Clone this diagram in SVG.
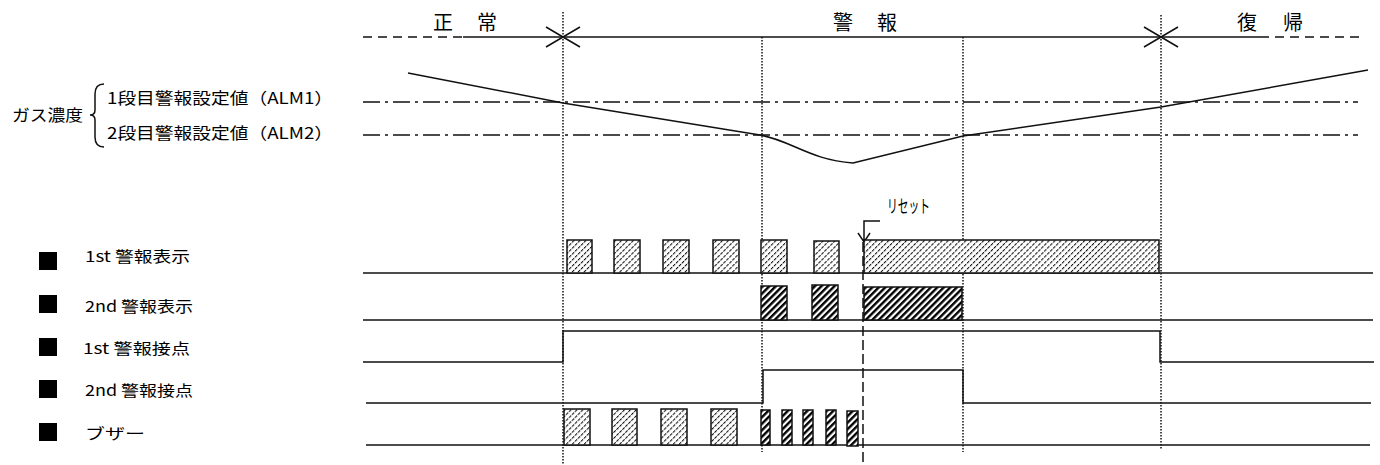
<svg xmlns="http://www.w3.org/2000/svg" width="1380" height="465" viewBox="0 0 1380 465">
<style>
text{font-family:"Noto Sans CJK JP","Noto Sans",sans-serif;fill:#000}
.hd{font-size:20px}
.lb{font-size:16px}
.rl{font-size:15px}
.ln{fill:none;stroke:#111;stroke-width:1.5}
.dot{fill:none;stroke:#111;stroke-width:1.5;stroke-dasharray:1.5 1.5}
.dd{fill:none;stroke:#111;stroke-width:1.3;stroke-dasharray:17 5 3 5}
.ph1{fill:url(#hl);stroke:#111;stroke-width:1.5}
.ph2{fill:url(#hd);stroke:#111;stroke-width:1.5}
.sq{fill:#000}
</style>
<defs>
<pattern id="hl" patternUnits="userSpaceOnUse" width="4.2" height="4.2" patternTransform="rotate(45)">
<rect width="4.2" height="4.2" fill="#fff"/>
<line x1="0.5" y1="0" x2="0.5" y2="4.2" stroke="#111" stroke-width="1.1" stroke-dasharray="2.4 0.9"/>
</pattern>
<pattern id="hd" patternUnits="userSpaceOnUse" width="4.6" height="4.6" patternTransform="rotate(45)">
<rect width="4.6" height="4.6" fill="#fff"/>
<line x1="1.2" y1="0" x2="1.2" y2="4.6" stroke="#000" stroke-width="2.4"/>
</pattern>
</defs>

<g id="header">
<text class="hd" x="433" y="30" textLength="64" lengthAdjust="spacing">正 常</text>
<text class="hd" x="833" y="30" textLength="64" lengthAdjust="spacing">警 報</text>
<text class="hd" x="1237" y="30" textLength="66" lengthAdjust="spacing">復 帰</text>
<line x1="363" y1="37" x2="463" y2="37" class="ln" stroke-dasharray="9 6"/>
<line x1="463" y1="37" x2="1260" y2="37" class="ln"/>
<line x1="1260" y1="37" x2="1360" y2="37" class="ln" stroke-dasharray="9 6"/>
<path class="ln" d="M546,27 L580,47 M546,47 L580,27"/>
<path class="ln" d="M1144,27 L1178,47 M1144,47 L1178,27"/>
</g>

<g id="gas-labels">
<text class="lb" x="12" y="121" textLength="71" lengthAdjust="spacingAndGlyphs">ガス濃度</text>
<path class="ln" d="M104,84 Q95,84 95,94 L95,110 Q95,115 90,115 Q95,115 95,120 L95,137 Q95,147 104,147"/>
<text class="lb" x="107" y="104" textLength="226" lengthAdjust="spacingAndGlyphs">1段目警報設定値（ALM1）</text>
<text class="lb" x="107" y="139" textLength="226" lengthAdjust="spacingAndGlyphs">2段目警報設定値（ALM2）</text>
</g>

<g id="thresholds">
<line x1="363" y1="102" x2="1358" y2="102" class="dd"/>
<line x1="363" y1="135" x2="1358" y2="135" class="dd"/>
</g>

<g id="concentration-curve">
<path class="ln" d="M408,73 L563,103 L760,135 C790,140 810,160 853,163 L963,136 L1161,107 L1368,70"/>
</g>

<g id="guides">
<line x1="563" y1="12" x2="563" y2="465" class="dot"/>
<line x1="762" y1="37" x2="762" y2="452" class="dot"/>
<line x1="963" y1="37" x2="963" y2="452" class="dot"/>
<line x1="1161" y1="15" x2="1161" y2="450" class="dot"/>
<line x1="863" y1="242" x2="863" y2="465" class="ln" stroke-width="1.2" stroke-dasharray="10 4"/>
</g>

<g id="reset">
<text x="887" y="213" style="font-size:18px" textLength="43" lengthAdjust="spacingAndGlyphs">リセット</text>
<path class="ln" d="M880,221 L864,221 L864,242 M858,233 L864,242 L870,233"/>
</g>

<g id="row1">
<rect class="sq" x="39" y="252" width="18" height="18"/>
<text class="rl" x="85" y="262" textLength="105" lengthAdjust="spacingAndGlyphs">1st 警報表示</text>
<line x1="363" y1="273" x2="1373" y2="273" class="ln"/>
<rect class="ph1" x="567" y="240" width="25" height="33"/>
<rect class="ph1" x="614" y="240" width="26" height="33"/>
<rect class="ph1" x="663" y="240" width="26" height="33"/>
<rect class="ph1" x="713" y="240" width="26" height="33"/>
<rect class="ph1" x="761" y="240" width="26" height="33"/>
<rect class="ph1" x="814" y="241" width="25" height="32"/>
<rect class="ph1" x="864" y="240" width="295" height="33"/>
</g>

<g id="row2">
<rect class="sq" x="39" y="295" width="18" height="18"/>
<text class="rl" x="85" y="312" textLength="108" lengthAdjust="spacingAndGlyphs">2nd 警報表示</text>
<line x1="363" y1="320" x2="1373" y2="320" class="ln"/>
<rect class="ph2" x="761" y="286" width="26" height="34"/>
<rect class="ph2" x="812" y="285" width="26" height="35"/>
<rect class="ph2" x="864" y="287" width="98" height="33"/>
</g>

<g id="row3">
<rect class="sq" x="39" y="338" width="18" height="18"/>
<text class="rl" x="83" y="354" textLength="107" lengthAdjust="spacingAndGlyphs">1st 警報接点</text>
<path class="ln" d="M363,362 L563,362 L563,331 L1160,331 L1160,362 L1374,362"/>
</g>

<g id="row4">
<rect class="sq" x="39" y="380" width="18" height="18"/>
<text class="rl" x="85" y="396" textLength="108" lengthAdjust="spacingAndGlyphs">2nd 警報接点</text>
<path class="ln" d="M366,403 L763,403 L763,370 L963,370 L963,403 L1371,403"/>
</g>

<g id="row5">
<rect class="sq" x="39" y="423" width="18" height="18"/>
<text class="rl" x="85" y="439" textLength="60" lengthAdjust="spacingAndGlyphs">ブザー</text>
<line x1="366" y1="445" x2="1370" y2="445" class="ln"/>
<rect class="ph1" x="564" y="409" width="26" height="36"/>
<rect class="ph1" x="612" y="409" width="25" height="36"/>
<rect class="ph1" x="661" y="409" width="26" height="36"/>
<rect class="ph1" x="711" y="409" width="26" height="36"/>
<rect class="ph2" x="761" y="410" width="9" height="35"/>
<rect class="ph2" x="782" y="410" width="10" height="35"/>
<rect class="ph2" x="803" y="410" width="10" height="35"/>
<rect class="ph2" x="826" y="410" width="10" height="35"/>
<rect class="ph2" x="847" y="411" width="11" height="35"/>
</g>
</svg>
